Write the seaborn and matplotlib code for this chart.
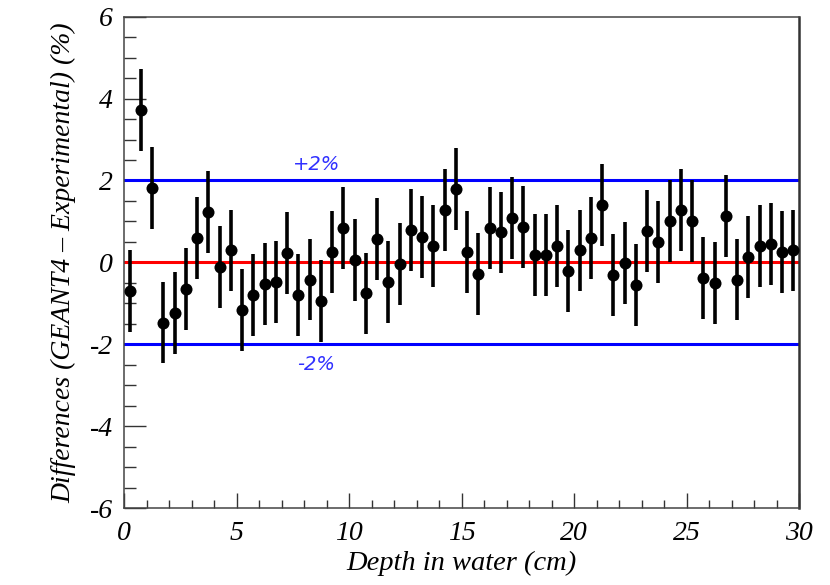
import matplotlib
matplotlib.use("Agg")
import matplotlib.pyplot as plt
from matplotlib.ticker import MultipleLocator
import seaborn as sns
import pandas as pd

# Depth positions (cm) and GEANT4 - experimental differences (%)
depth = [0.25, 0.75, 1.25, 1.75, 2.25, 2.75, 3.25, 3.75, 4.25, 4.75,
         5.25, 5.75, 6.25, 6.75, 7.25, 7.75, 8.25, 8.75, 9.25, 9.75,
         10.25, 10.75, 11.25, 11.75, 12.25, 12.75, 13.25, 13.75, 14.25, 14.75,
         15.25, 15.75, 16.25, 16.75, 17.25, 17.75, 18.25, 18.75, 19.25, 19.75,
         20.25, 20.75, 21.25, 21.75, 22.25, 22.75, 23.25, 23.75, 24.25, 24.75,
         25.25, 25.75, 26.25, 26.75, 27.25, 27.75, 28.25, 28.75, 29.25, 29.75]
difference = [-0.69, 3.73, 1.82, -1.47, -1.24, -0.65, 0.60, 1.24, -0.12, 0.29,
              -1.17, -0.80, -0.53, -0.49, 0.23, -0.80, -0.42, -0.94, 0.26, 0.83,
              0.06, -0.76, 0.57, -0.49, -0.04, 0.80, 0.61, 0.39, 1.27, 1.79,
              0.26, -0.29, 0.83, 0.73, 1.08, 0.87, 0.19, 0.19, 0.39, -0.22,
              0.29, 0.60, 1.40, -0.31, -0.02, -0.56, 0.76, 0.49, 1.00, 1.28,
              1.00, -0.39, -0.50, 1.13, -0.42, 0.12, 0.39, 0.45, 0.26, 0.29]
uncertainty = [1.0, 1.0, 1.0, 1.0, 1.0, 1.0, 1.0, 1.0, 1.0, 1.0,
               1.0, 1.0, 1.0, 1.0, 1.0, 1.0, 1.0, 1.0, 1.0, 1.0,
               1.0, 1.0, 1.0, 1.0, 1.0, 1.0, 1.0, 1.0, 1.0, 1.0,
               1.0, 1.0, 1.0, 1.0, 1.0, 1.0, 1.0, 1.0, 1.0, 1.0,
               1.0, 1.0, 1.0, 1.0, 1.0, 1.0, 1.0, 1.0, 1.0, 1.0,
               1.0, 1.0, 1.0, 1.0, 1.0, 1.0, 1.0, 1.0, 1.0, 1.0]
tolerance = [2, -2]
tolerance_labels = ["+2%", "-2%"]

df = pd.DataFrame({"depth": depth, "diff": difference, "err": uncertainty})

sns.set_theme(style="white", rc={"text.color": "black",
                                 "axes.labelcolor": "black",
                                 "xtick.color": "black",
                                 "ytick.color": "black"})
plt.rcParams["font.family"] = ["Liberation Serif", "DejaVu Serif"]
plt.rcParams["axes.unicode_minus"] = False

fig = plt.figure(figsize=(8.3, 5.85), dpi=100)
ax = fig.add_axes([0.1494, 0.1316, 0.8133, 0.8399])

# reference lines
ax.axhline(0, color="#ff0000", lw=2.2, zorder=1)
for t, lab, dy in zip(tolerance, tolerance_labels, [0.38, -0.5]):
    ax.axhline(t, color="#0000ff", lw=2.2, zorder=1)
    ax.text(8.55, t + dy, lab, color="#3030ff", fontsize=14, style="italic",
            family="DejaVu Sans", ha="center", va="center")

# error bars and points
ax.errorbar(df["depth"], df["diff"], yerr=df["err"], fmt="none",
            ecolor="black", elinewidth=2.6, capsize=0, zorder=3)
sns.scatterplot(data=df, x="depth", y="diff", ax=ax, color="black", s=75,
                edgecolor="black", linewidth=0, zorder=4, legend=False)

ax.set_xlim(0, 30)
ax.set_ylim(-6, 6)
ax.xaxis.set_major_locator(MultipleLocator(5))
ax.xaxis.set_minor_locator(MultipleLocator(1))
ax.yaxis.set_major_locator(MultipleLocator(2))
ax.yaxis.set_minor_locator(MultipleLocator(0.5))

ax.tick_params(axis="x", which="major", direction="in", length=11, width=1.0,
               color="#333333", labelcolor="black", labelsize=20, pad=9,
               top=False, bottom=True)
ax.tick_params(axis="x", which="minor", direction="in", length=6, width=1.0,
               color="#333333", top=False, bottom=True)
ax.tick_params(axis="y", which="major", direction="in", length=16, width=1.0,
               color="#333333", labelcolor="black", labelsize=20, pad=8,
               left=True, right=False)
ax.tick_params(axis="y", which="minor", direction="in", length=8.5, width=1.0,
               color="#333333", left=True, right=False)
for lab in ax.get_xticklabels() + ax.get_yticklabels():
    lab.set_style("italic")

for side in ["left", "bottom", "top"]:
    ax.spines[side].set_color("#444444")
    ax.spines[side].set_linewidth(1.1)
ax.spines["right"].set_color("#333333")
ax.spines["right"].set_linewidth(1.8)

ax.set_xlabel("Depth in water (cm)", fontsize=20.5, style="italic",
              color="black", labelpad=4)
ax.set_ylabel("Differences (GEANT4 \u2013 Experimental) (%)", fontsize=20,
              style="italic", color="black", labelpad=10)

fig.savefig("out.png", dpi=100)
